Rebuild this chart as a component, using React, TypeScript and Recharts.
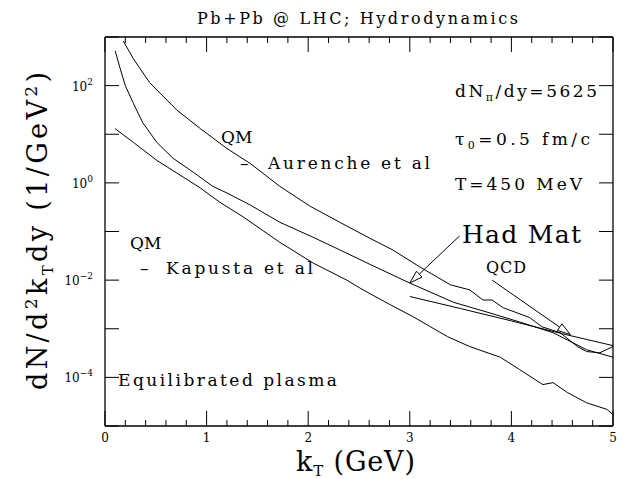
import React from "react";
import { LineChart, Line, XAxis, YAxis, ReferenceLine } from "recharts";

// QM rates, Aurenche et al
const kAurenche = [0.18, 0.28, 0.44, 0.71, 0.94, 1.2, 1.43, 1.72, 2.02, 2.31, 2.61, 2.83, 3.1, 3.4, 3.59, 3.72, 3.81, 3.92, 4.18, 4.3, 4.48, 4.65, 4.74, 4.87, 5.0];
const vAurenche = [830, 355, 115, 31, 13, 5.1, 2.5, 0.85, 0.33, 0.155, 0.072, 0.042, 0.0186, 0.008, 0.0063, 0.0039, 0.0039, 0.0027, 0.0017, 0.0011, 0.00083, 0.00043, 0.00034, 0.00032, 0.00043];

// hadronic matter
const kHad = [0.1, 0.15, 0.2, 0.28, 0.37, 0.51, 0.67, 0.87, 1.06, 1.2, 1.43, 1.72, 2.02, 2.31, 2.61, 3.0, 3.43, 3.76, 4.08, 4.41, 4.55, 4.74, 5.0];
const vHad = [520, 222, 100, 43, 17.5, 6.8, 3.2, 1.65, 0.85, 0.62, 0.35, 0.155, 0.081, 0.042, 0.021, 0.0087, 0.0035, 0.0022, 0.00138, 0.00083, 0.00059, 0.00037, 0.00026];

// QM rates, Kapusta et al
const kKapusta = [0.1, 0.28, 0.51, 0.71, 0.94, 1.13, 1.36, 1.72, 2.05, 2.38, 2.54, 2.81, 3.03, 3.37, 3.59, 3.89, 4.08, 4.31, 4.41, 4.55, 4.74, 4.94, 5.0];
const vKapusta = [13, 6.8, 2.9, 1.58, 0.78, 0.4, 0.2, 0.06, 0.0224, 0.01, 0.0063, 0.0031, 0.00178, 0.00069, 0.00043, 0.00026, 0.000145, 7.1e-5, 7.8e-5, 4.9e-5, 3.0e-5, 2.2e-5, 1.7e-5];

// prompt QCD photons
const kQcd = [3.0, 3.5, 4.0, 4.5, 5.0];
const vQcd = [4.6e-3, 2.6e-3, 1.45e-3, 7.9e-4, 4.5e-4];

const xTicks = [0, 0.2, 0.4, 0.6, 0.8, 1, 1.2, 1.4, 1.6, 1.8, 2, 2.2, 2.4, 2.6, 2.8, 3, 3.2, 3.4, 3.6, 3.8, 4, 4.2, 4.4, 4.6, 4.8, 5];
const yTicks = [1e-5, 1e-4, 1e-3, 1e-2, 1e-1, 1, 10, 100, 1000];
const yLabelExp = [-4, -2, 0, 2];

const toRows = (ks: number[], vs: number[]) => ks.map((k, i) => ({ k, v: vs[i] }));

const FAMILY = "DejaVu Serif";
const serif = { fontFamily: '"DejaVu Serif"' };

const isMajor = (v: number) => Math.abs(v - Math.round(v)) < 1e-6;

const BottomTick = ({ x, y, payload }: any) => {
  const major = isMajor(payload.value);
  return (
    <g>
      <line x1={x} y1={y} x2={x} y2={y - (major ? 15 : 6)} stroke="#000" />
      {major && (
        <text x={x} y={y + 16} textAnchor="middle" fontSize={12} fontFamily={FAMILY} style={serif} fill="#000">
          {Math.round(payload.value)}
        </text>
      )}
    </g>
  );
};

const TopTick = ({ x, y, payload }: any) => {
  const major = isMajor(payload.value);
  return <line x1={x} y1={y} x2={x} y2={y + (major ? 15 : 6)} stroke="#000" />;
};

const LeftTick = ({ x, y, payload }: any) => {
  const e = Math.round(Math.log10(payload.value));
  return (
    <g>
      <line x1={x} y1={y} x2={x + 14} y2={y} stroke="#000" />
      {yLabelExp.includes(e) && (
        <text x={x - 12} y={y + 5} textAnchor="end" fontSize={12} fontFamily={FAMILY} style={serif} fill="#000">
          10<tspan dy={-6} fontSize={9}>{e < 0 ? "\u2212" + -e : e}</tspan>
        </text>
      )}
    </g>
  );
};

const RightTick = ({ x, y }: any) => <line x1={x} y1={y} x2={x - 14} y2={y} stroke="#000" />;

const Arrow = (props: any) => {
  const { x1, y1, x2, y2 } = props;
  const a = Math.atan2(y2 - y1, x2 - x1);
  const len = 13;
  const half = 4;
  const bx = x2 - len * Math.cos(a);
  const by = y2 - len * Math.sin(a);
  const px = -Math.sin(a) * half;
  const py = Math.cos(a) * half;
  return (
    <g>
      <line x1={x1} y1={y1} x2={bx} y2={by} stroke="#000" strokeWidth={1} />
      <polygon points={`${x2},${y2} ${bx + px},${by + py} ${bx - px},${by - py}`} fill="#fff" stroke="#000" strokeWidth={1} />
    </g>
  );
};

export default function App() {
  const txt = { fontFamily: FAMILY, style: serif, fill: "#000" };
  return (
    <div style={{ position: "absolute", left: 0, top: 0, width: 623, height: 479, background: "#fff", fontFamily: '"DejaVu Serif"' }}>
      <LineChart width={623} height={479} margin={{ top: 36, right: 9, bottom: 52, left: 104 }}>
        <XAxis xAxisId="b" type="number" dataKey="k" domain={[0, 5]} ticks={xTicks} interval={0}
          height={1} tickSize={0} tickMargin={0} tick={<BottomTick />} axisLine={{ stroke: "#000", strokeWidth: 1.3 }} allowDataOverflow />
        <XAxis xAxisId="t" orientation="top" type="number" dataKey="k" domain={[0, 5]} ticks={xTicks} interval={0}
          height={1} tickSize={0} tickMargin={0} tick={<TopTick />} axisLine={{ stroke: "#000", strokeWidth: 1.3 }} allowDataOverflow />
        <YAxis yAxisId="l" type="number" scale="log" domain={[1e-5, 1000]} ticks={yTicks} interval={0}
          width={1} tickSize={0} tickMargin={0} tick={<LeftTick />} axisLine={{ stroke: "#000", strokeWidth: 1.3 }} allowDataOverflow />
        <YAxis yAxisId="r" orientation="right" type="number" scale="log" domain={[1e-5, 1000]} ticks={yTicks} interval={0}
          width={1} tickSize={0} tickMargin={0} tick={<RightTick />} axisLine={{ stroke: "#000", strokeWidth: 1.3 }} allowDataOverflow />
        <Line xAxisId="b" yAxisId="l" data={toRows(kAurenche, vAurenche)} dataKey="v" type="linear" stroke="#000" strokeWidth={1} dot={false} isAnimationActive={false} />
        <Line xAxisId="b" yAxisId="l" data={toRows(kHad, vHad)} dataKey="v" type="linear" stroke="#000" strokeWidth={1} dot={false} isAnimationActive={false} />
        <Line xAxisId="b" yAxisId="l" data={toRows(kKapusta, vKapusta)} dataKey="v" type="linear" stroke="#000" strokeWidth={1} dot={false} isAnimationActive={false} />
        <Line xAxisId="b" yAxisId="l" data={toRows(kQcd, vQcd)} dataKey="v" type="linear" stroke="#000" strokeWidth={1} dot={false} isAnimationActive={false} />
        <ReferenceLine xAxisId="b" yAxisId="l" segment={[{ x: 3.49, y: 0.081 }, { x: 3.0, y: 0.0087 }]} shape={Arrow} />
        <ReferenceLine xAxisId="b" yAxisId="l" segment={[{ x: 3.81, y: 0.01 }, { x: 4.58, y: 7.6e-4 }]} shape={Arrow} />
      </LineChart>
      <svg width={623} height={479} style={{ position: "absolute", left: 0, top: 0, pointerEvents: "none" }}>
        <text x={197} y={24} fontSize={16} textLength={321} lengthAdjust="spacing" {...txt}>Pb+Pb @ LHC; Hydrodynamics</text>
        <text transform="translate(47,390) rotate(-90)" fontSize={27} textLength={318} lengthAdjust="spacing" {...txt}>
          dN/d<tspan dy={-10} fontSize={17}>2</tspan><tspan dy={10}>k</tspan><tspan dy={6} fontSize={15}>T</tspan><tspan dy={-6}>dy (1/GeV</tspan><tspan dy={-10} fontSize={17}>2</tspan><tspan dy={10}>)</tspan>
        </text>
        <text x={296} y={471} fontSize={27} textLength={119} lengthAdjust="spacing" {...txt}>
          k<tspan dy={5} fontSize={15}>T</tspan><tspan dy={-5}> (GeV)</tspan>
        </text>
        <text x={221} y={143} fontSize={17} {...txt}>QM</text>
        <text x={240} y={169} fontSize={17} {...txt}>–</text>
        <text x={268} y={169} fontSize={17} textLength={162} lengthAdjust="spacing" {...txt}>Aurenche et al</text>
        <text x={130} y={249} fontSize={17} {...txt}>QM</text>
        <text x={140} y={274} fontSize={17} {...txt}>–</text>
        <text x={166} y={274} fontSize={17} textLength={147} lengthAdjust="spacing" {...txt}>Kapusta et al</text>
        <text x={455} y={97} fontSize={17} textLength={142} lengthAdjust="spacing" {...txt}>
          dN<tspan dy={4} fontSize={11}>π</tspan><tspan dy={-4}>/dy=5625</tspan>
        </text>
        <text x={455} y={145} fontSize={17} textLength={135} lengthAdjust="spacing" {...txt}>
          τ<tspan dy={4} fontSize={11}>0</tspan><tspan dy={-4}>=0.5 fm/c</tspan>
        </text>
        <text x={455} y={190} fontSize={17} textLength={127} lengthAdjust="spacing" {...txt}>T=450 MeV</text>
        <text x={462} y={243} fontSize={25} textLength={119} lengthAdjust="spacing" {...txt}>Had Mat</text>
        <text x={486} y={273} fontSize={16} textLength={40} lengthAdjust="spacing" {...txt}>QCD</text>
        <text x={118} y={386} fontSize={17} textLength={219} lengthAdjust="spacing" {...txt}>Equilibrated plasma</text>
      </svg>
    </div>
  );
}
